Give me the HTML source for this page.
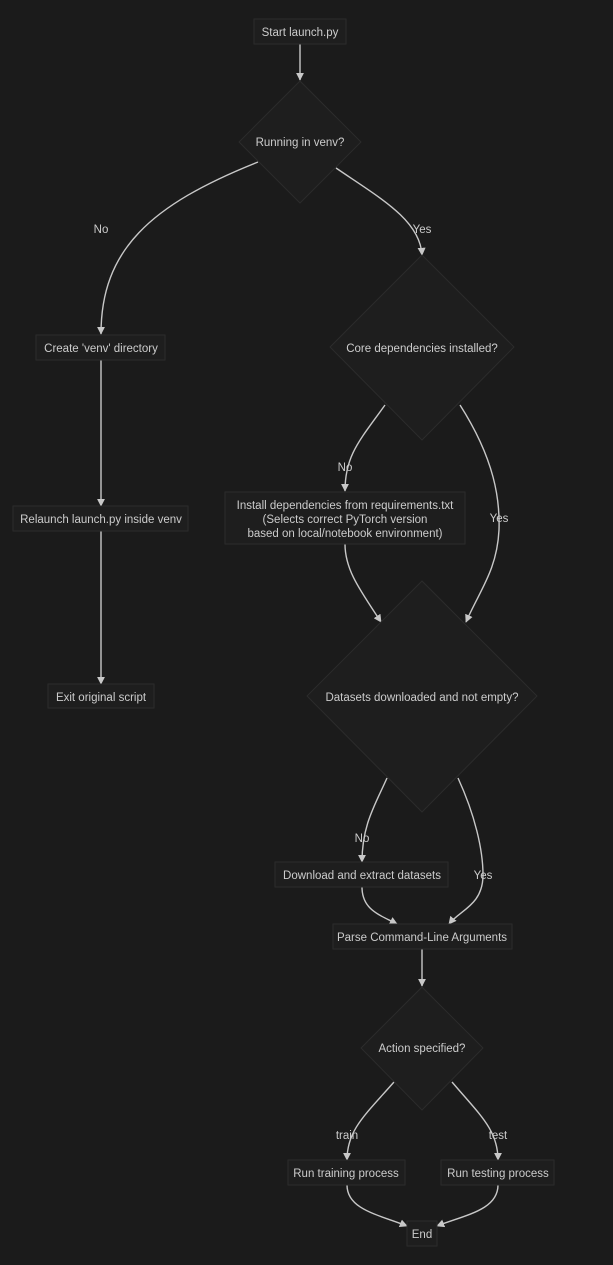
<!DOCTYPE html>
<html><head><meta charset="utf-8"><style>
html,body{margin:0;padding:0;background:#1b1b1b;}
svg{display:block}
text{font-family:"Liberation Sans",sans-serif;font-size:11.5px;fill:#cccccc;text-anchor:middle;dominant-baseline:central}
.n{fill:#1e1e1e;stroke:#2c2c2c;stroke-width:1}
.e{fill:none;stroke:#c8c8c8;stroke-width:1.4}
</style></head><body>
<svg width="613" height="1265" viewBox="0 0 613 1265" xmlns="http://www.w3.org/2000/svg">
<defs><marker id="a" viewBox="0 0 10 10" refX="9" refY="5" markerWidth="8" markerHeight="8" orient="auto-start-reverse" markerUnits="userSpaceOnUse"><path d="M0,0 L10,5 L0,10 z" fill="#c8c8c8"/></marker></defs>
<rect width="613" height="1265" fill="#1b1b1b"/>
<path class="e" marker-end="url(#a)" d="M300,44 L300,80"/>
<path class="e" marker-end="url(#a)" d="M258,162 C150,205 101,250 101,334"/>
<path class="e" marker-end="url(#a)" d="M336,168 C380,198 420,220 422,255"/>
<path class="e" marker-end="url(#a)" d="M101,360 L101,506"/>
<path class="e" marker-end="url(#a)" d="M101,531 L101,684"/>
<path class="e" marker-end="url(#a)" d="M385,405 C360,440 345,455 345,491"/>
<path class="e" marker-end="url(#a)" d="M460,405 C495,460 500,500 499,530 C497,570 480,590 466,622"/>
<path class="e" marker-end="url(#a)" d="M345,544 C345,570 360,590 381,622"/>
<path class="e" marker-end="url(#a)" d="M387,778 C375,805 362,825 362,862"/>
<path class="e" marker-end="url(#a)" d="M458,778 C475,815 483,850 483,875 C483,905 460,910 449,924"/>
<path class="e" marker-end="url(#a)" d="M362,887 C362,910 380,915 397,924"/>
<path class="e" marker-end="url(#a)" d="M422,949 L422,986"/>
<path class="e" marker-end="url(#a)" d="M394,1082 C365,1115 347,1130 347,1160"/>
<path class="e" marker-end="url(#a)" d="M452,1082 C480,1115 498,1130 498,1160"/>
<path class="e" marker-end="url(#a)" d="M347,1185 C347,1210 380,1215 407,1226"/>
<path class="e" marker-end="url(#a)" d="M498,1185 C498,1210 465,1215 437,1226"/>
<rect class="n" x="254" y="19" width="92" height="25"/><text x="300" y="33">Start launch.py</text>
<polygon class="n" points="300,81 361,142 300,203 239,142"/><text x="300" y="143">Running in venv?</text>
<rect class="n" x="36" y="335" width="129" height="25"/><text x="101" y="349">Create 'venv' directory</text>
<polygon class="n" points="422,255 514,347 422,440 330,347"/><text x="422" y="349">Core dependencies installed?</text>
<rect class="n" x="13" y="506" width="175" height="25"/><text x="101" y="520">Relaunch launch.py inside venv</text>
<rect class="n" x="225" y="492" width="240" height="52"/>
<text x="345" y="506">Install dependencies from requirements.txt</text>
<text x="345" y="520">(Selects correct PyTorch version</text>
<text x="345" y="534">based on local/notebook environment)</text>
<rect class="n" x="48" y="684" width="106" height="24"/><text x="101" y="698">Exit original script</text>
<polygon class="n" points="422,581 537,696 422,812 307,696"/><text x="422" y="698">Datasets downloaded and not empty?</text>
<rect class="n" x="275" y="862" width="173" height="25"/><text x="362" y="876">Download and extract datasets</text>
<rect class="n" x="333" y="924" width="179" height="25"/><text x="422" y="938">Parse Command-Line Arguments</text>
<polygon class="n" points="422,987 483,1048 422,1110 361,1048"/><text x="422" y="1049">Action specified?</text>
<rect class="n" x="288" y="1160" width="117" height="25"/><text x="346" y="1174">Run training process</text>
<rect class="n" x="441" y="1160" width="113" height="25"/><text x="498" y="1174">Run testing process</text>
<rect class="n" x="407" y="1221" width="30" height="25"/><text x="422" y="1235">End</text>
<text x="101" y="230">No</text>
<text x="422" y="230">Yes</text>
<text x="345" y="468">No</text>
<text x="499" y="519">Yes</text>
<text x="362" y="839">No</text>
<text x="483" y="876">Yes</text>
<text x="347" y="1136">train</text>
<text x="498" y="1136">test</text>
</svg>
</body></html>
